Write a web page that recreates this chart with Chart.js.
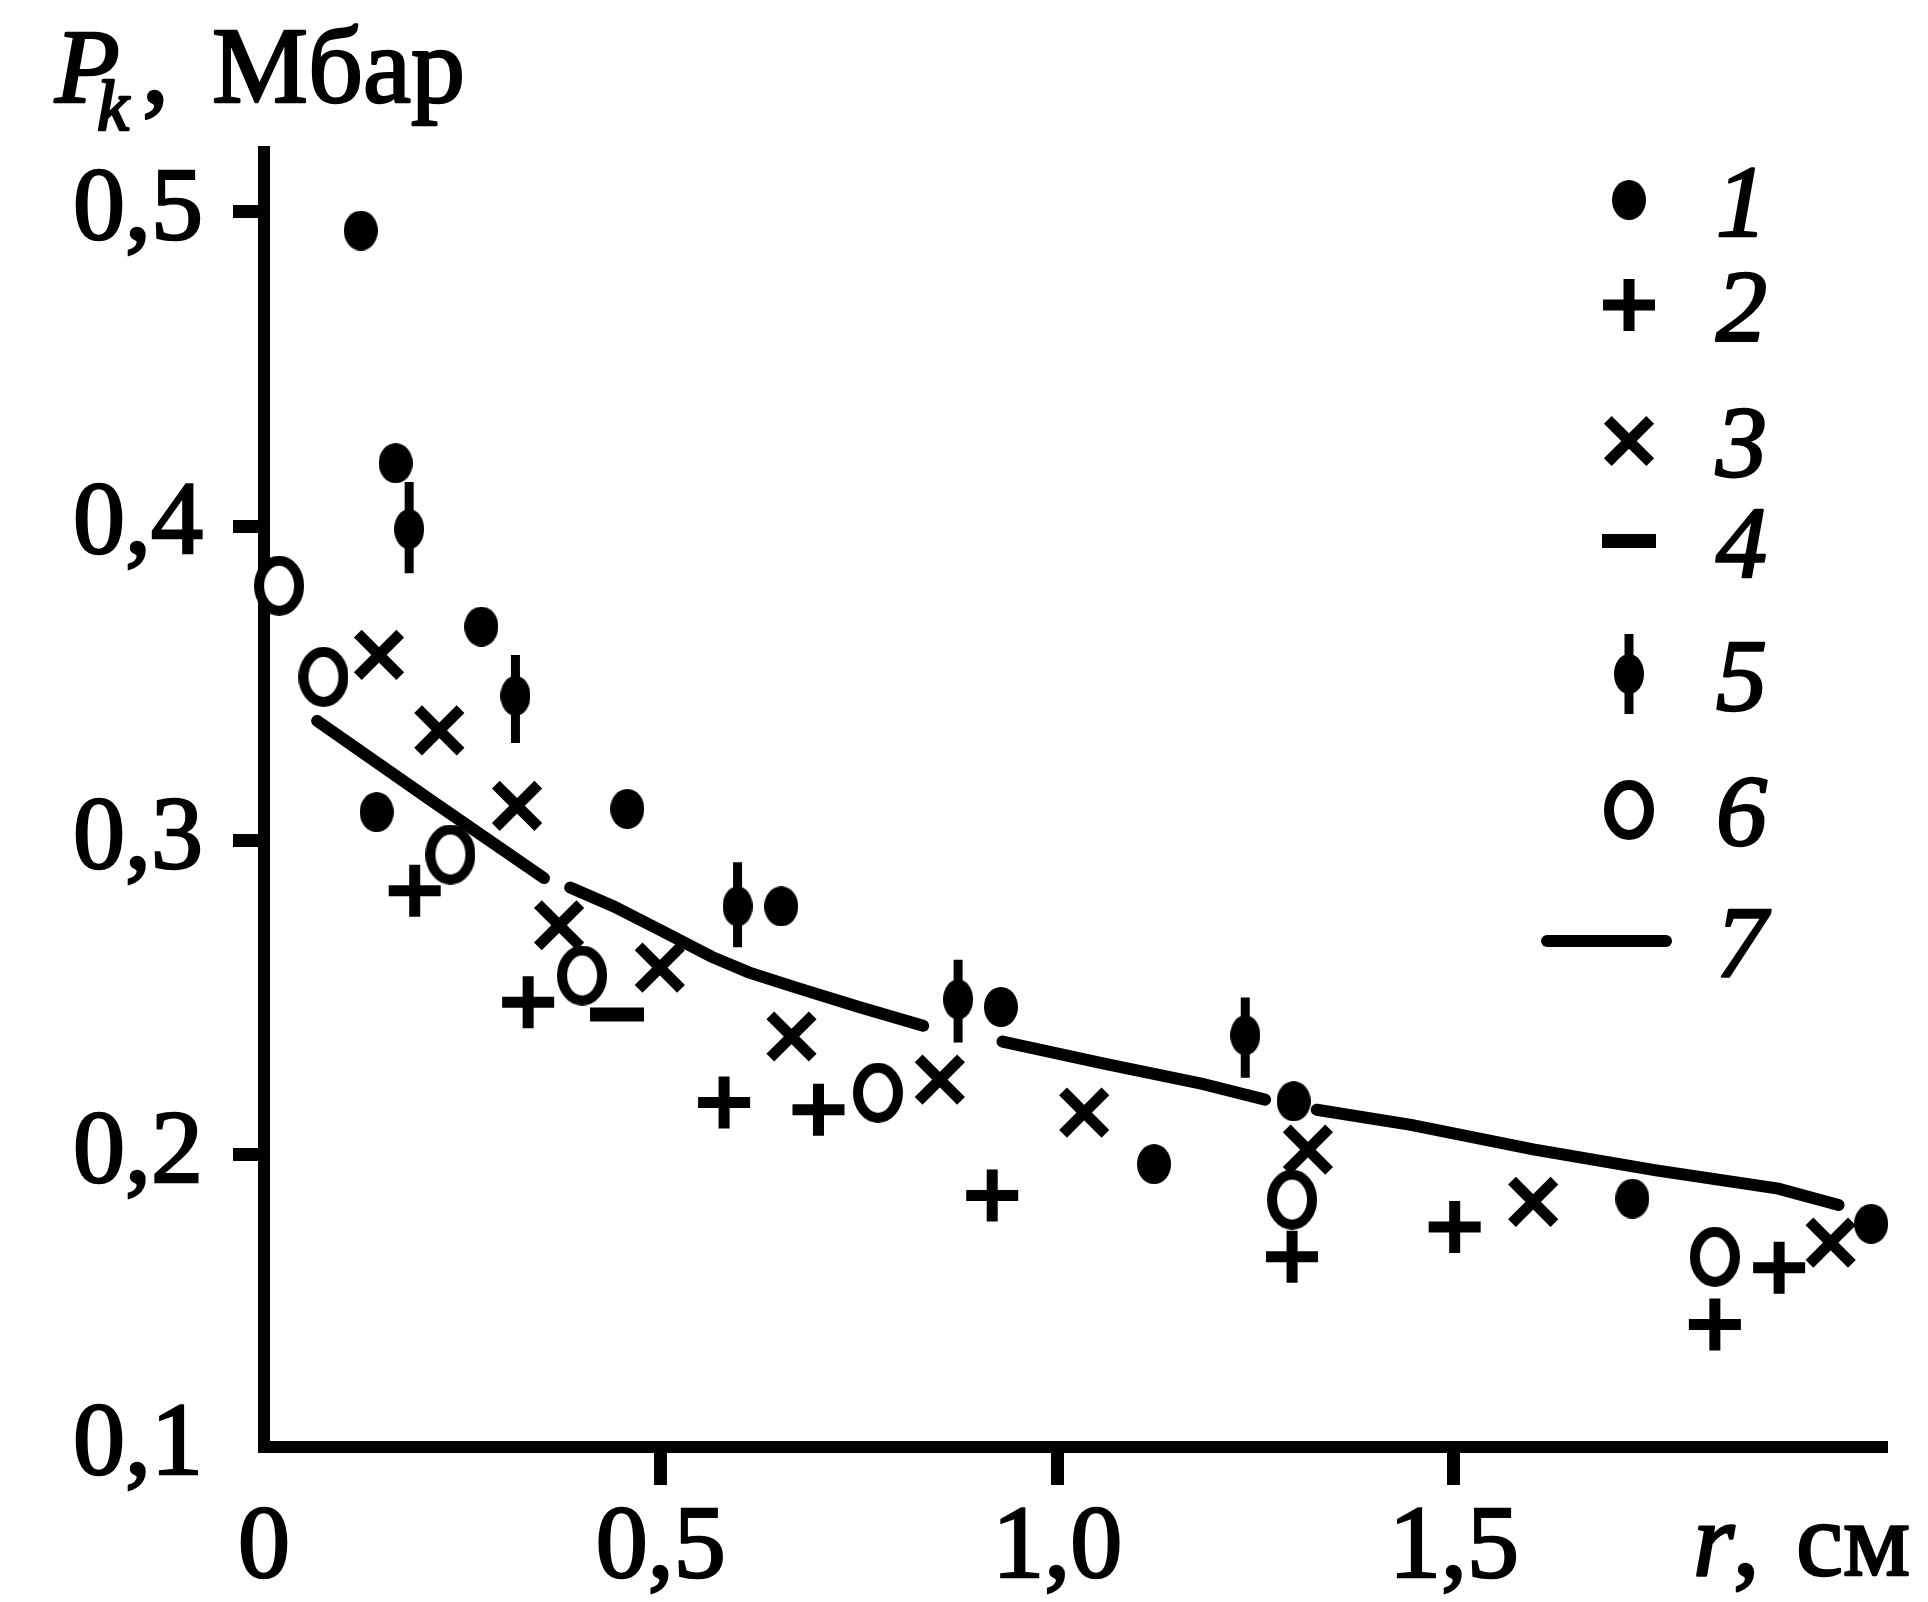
<!DOCTYPE html>
<html lang="ru">
<head>
<meta charset="UTF-8">
<title>Pk(r)</title>
<script src="https://cdn.jsdelivr.net/npm/chart.js"></script>
<style>
    html, body { margin: 0; padding: 0; background: #fff; }
</style>
</head>
<body>
<canvas id="chart" width="1928" height="1602"></canvas>
<script>
    // 1 - filled dots
    const s1X = [0.122, 0.166, 0.274, 0.142, 0.458, 0.652, 0.929, 1.122, 1.298, 1.725, 2.026];
    const s1Y = [0.494, 0.420, 0.368, 0.309, 0.310, 0.279, 0.247, 0.197, 0.217, 0.186, 0.178];
    // 2 - plus
    const s2X = [0.190, 0.333, 0.580, 0.699, 0.918, 1.296, 1.501, 1.829, 1.910];
    const s2Y = [0.284, 0.2485, 0.2166, 0.2143, 0.187, 0.1675, 0.177, 0.146, 0.164];
    // 3 - cross
    const s3X = [0.145, 0.221, 0.319, 0.372, 0.499, 0.665, 0.852, 1.034, 1.316, 1.600, 1.975];
    const s3Y = [0.359, 0.335, 0.311, 0.273, 0.2595, 0.2376, 0.2239, 0.2134, 0.2016, 0.185, 0.172];
    // 4 - dash
    const s4X = [0.445];
    const s4Y = [0.2446];
    // 5 - dots with error bars
    const s5X = [0.183, 0.317, 0.597, 0.875, 1.237];
    const s5Y = [0.399, 0.346, 0.279, 0.2494, 0.238];
    const s5Lo = [0.385, 0.331, 0.266, 0.2357, 0.2245];
    const s5Hi = [0.414, 0.359, 0.293, 0.262, 0.250];
    // 6 - open circles
    const s6X = [0.019, 0.075, 0.235, 0.401, 0.774, 1.296, 1.829];
    const s6Y = [0.381, 0.352, 0.2955, 0.257, 0.2197, 0.1857, 0.1675];
    // 7 - curve (null = break in the line)
    const curveX = [0.067, 0.209, 0.353, 0.37, 0.386, 0.441, 0.503, 0.564, 0.611, 0.673, 0.750, 0.831, 0.88,
                    0.931, 1.059, 1.183, 1.262, 1.29, 1.327, 1.446, 1.600, 1.755, 1.909, 1.985];
    const curveY = [0.338, 0.313, 0.288, null, 0.285, 0.279, 0.271, 0.263, 0.258, 0.253, 0.247, 0.241, null,
                    0.236, 0.229, 0.2225, 0.2175, null, 0.2143, 0.2095, 0.2017, 0.195, 0.1892, 0.184];

    const legendLabels = ['1', '2', '3', '4', '5', '6', '7'];
    const xTickValues = [0, 0.5, 1.0, 1.5];
    const xTickLabels = ['0', '0,5', '1,0', '1,5'];
    const yTickValues = [0.107, 0.2, 0.3, 0.4, 0.5];
    const yTickLabels = ['0,1', '0,2', '0,3', '0,4', '0,5'];

    const ink = '#000';
    const serif = '"Liberation Serif", "Times New Roman", serif';
    Chart.defaults.font.family = serif;

    const pts = (xs, ys) => xs.map((x, i) => ({x: x, y: ys[i]}));

    // error bars as short vertical segments separated by gaps
    const errData = [];
    s5X.forEach((x, i) => {
        errData.push({x: x, y: s5Hi[i]}, {x: x, y: s5Lo[i]}, {x: x, y: null});
    });

    // the printed dots and rings are slightly tall ellipses
    function ellipseMark(w, h, ring) {
        const c = document.createElement('canvas');
        c.width = w;
        c.height = h;
        const g = c.getContext('2d');
        g.beginPath();
        if (ring) {
            g.ellipse(w / 2, h / 2, w / 2 - ring / 2, h / 2 - ring / 2, 0, 0, Math.PI * 2);
            g.fillStyle = '#fff';
            g.fill();
            g.lineWidth = ring;
            g.strokeStyle = ink;
            g.stroke();
        } else {
            g.ellipse(w / 2, h / 2, w / 2, h / 2, 0, 0, Math.PI * 2);
            g.fillStyle = ink;
            g.fill();
        }
        return c;
    }

    // marker look, shared by datasets and the legend
    const marks = {
        s1: {pointStyle: ellipseMark(34, 40, 0), radius: 17, borderWidth: 0, fill: ink},
        s2: {pointStyle: 'cross', radius: 26, borderWidth: 11, fill: ink},
        s3: {pointStyle: 'crossRot', radius: 30, borderWidth: 11, fill: ink},
        s4: {pointStyle: 'line', radius: 27, borderWidth: 14, fill: ink},
        s5: {pointStyle: ellipseMark(30, 40, 0), radius: 15, borderWidth: 0, fill: ink},
        s6: {pointStyle: ellipseMark(50, 60, 10), radius: 25, borderWidth: 0, fill: '#fff'}
    };

    function markerSet(label, data, m) {
        return {
            label: label,
            data: data,
            showLine: false,
            pointStyle: m.pointStyle,
            pointRadius: m.radius,
            pointBorderWidth: m.borderWidth,
            pointBackgroundColor: m.fill,
            pointBorderColor: ink,
            clip: false
        };
    }

    function drawMarker(ctx, m, x, y) {
        ctx.save();
        ctx.fillStyle = m.fill;
        ctx.strokeStyle = ink;
        ctx.lineWidth = m.borderWidth;
        if (typeof m.pointStyle === 'object') {
            ctx.drawImage(m.pointStyle, x - m.pointStyle.width / 2, y - m.pointStyle.height / 2);
        } else if (Chart.helpers && Chart.helpers.drawPoint) {
            Chart.helpers.drawPoint(ctx, {pointStyle: m.pointStyle, rotation: 0, radius: m.radius, borderWidth: m.borderWidth}, x, y);
        }
        ctx.restore();
    }

    function heavyText(ctx, t, x, y) {
        ctx.fillText(t, x, y);
        ctx.strokeText(t, x, y);
    }

    // axis captions and the legend drawn onto the canvas
    const textPlugin = {
        id: 'captions',
        afterDraw(chart) {
            const ctx = chart.ctx;
            ctx.save();
            ctx.fillStyle = ink;
            ctx.strokeStyle = ink;
            ctx.lineWidth = 2.5;
            ctx.lineJoin = 'round';
            ctx.textBaseline = 'alphabetic';
            ctx.textAlign = 'left';

            // y caption
            ctx.font = 'italic 106px ' + serif;
            heavyText(ctx, 'P', 55, 102);
            ctx.font = 'italic 72px ' + serif;
            heavyText(ctx, 'k', 97, 130);
            ctx.font = '108px ' + serif;
            heavyText(ctx, ',', 142, 102);
            heavyText(ctx, 'Мбар', 212, 102);

            // x caption
            ctx.font = 'italic 106px ' + serif;
            heavyText(ctx, 'r', 1693, 1575);
            ctx.font = '106px ' + serif;
            heavyText(ctx, ',', 1733, 1575);
            heavyText(ctx, 'см', 1796, 1575);

            // legend
            const rows = [200, 305, 441, 541, 674, 810, 941];
            const mx = 1629;
            ctx.save();
            drawMarker(ctx, marks.s1, mx, rows[0]);
            drawMarker(ctx, marks.s2, mx, rows[1]);
            drawMarker(ctx, marks.s3, mx, rows[2]);
            drawMarker(ctx, marks.s4, mx, rows[3]);
            ctx.lineWidth = 9;
            ctx.beginPath();
            ctx.moveTo(mx, rows[4] - 40);
            ctx.lineTo(mx, rows[4] + 40);
            ctx.stroke();
            drawMarker(ctx, marks.s5, mx, rows[4]);
            drawMarker(ctx, marks.s6, mx, rows[5]);
            ctx.lineWidth = 12;
            ctx.lineCap = 'round';
            ctx.beginPath();
            ctx.moveTo(1547, rows[6]);
            ctx.lineTo(1666, rows[6]);
            ctx.stroke();
            ctx.restore();

            ctx.font = 'italic 102px ' + serif;
            legendLabels.forEach((t, i) => heavyText(ctx, t, 1716, rows[i] + 36));
            ctx.restore();
        }
    };

    const hideFirst = (c) => c.index === 0 ? 'rgba(0,0,0,0)' : ink;

    new Chart(document.getElementById('chart'), {
        type: 'scatter',
        data: {
            datasets: [
                markerSet('1', pts(s1X, s1Y), marks.s1),
                markerSet('2', pts(s2X, s2Y), marks.s2),
                markerSet('3', pts(s3X, s3Y), marks.s3),
                markerSet('4', pts(s4X, s4Y), marks.s4),
                markerSet('5', pts(s5X, s5Y), marks.s5),
                {
                    label: '5 err',
                    data: errData,
                    showLine: true,
                    spanGaps: false,
                    borderColor: ink,
                    borderWidth: 9,
                    pointRadius: 0,
                    clip: false
                },
                markerSet('6', pts(s6X, s6Y), marks.s6),
                {
                    label: '7',
                    data: pts(curveX, curveY),
                    showLine: true,
                    spanGaps: false,
                    borderColor: ink,
                    borderWidth: 12,
                    borderCapStyle: 'round',
                    pointRadius: 0,
                    tension: 0,
                    clip: false
                }
            ]
        },
        options: {
            responsive: false,
            animation: false,
            events: [],
            layout: { padding: { top: 152, right: 36, left: 0, bottom: 0 } },
            plugins: {
                legend: { display: false },
                tooltip: { enabled: false }
            },
            scales: {
                x: {
                    type: 'linear',
                    min: 0,
                    max: 2.046,
                    border: { display: true, color: ink, width: 12 },
                    grid: { drawOnChartArea: false, drawTicks: true, tickLength: 38, tickWidth: 13, tickColor: hideFirst },
                    afterBuildTicks: (scale) => { scale.ticks = xTickValues.map(v => ({value: v})); },
                    afterFit: (scale) => { scale.height = 155; },
                    ticks: {
                        color: ink,
                        padding: 2,
                        maxRotation: 0,
                        autoSkip: false,
                        textStrokeColor: ink,
                        textStrokeWidth: 2.5,
                        font: { family: serif, size: 104 },
                        callback: (v, i) => xTickLabels[i]
                    }
                },
                y: {
                    type: 'linear',
                    min: 0.107,
                    max: 0.519,
                    border: { display: true, color: ink, width: 12 },
                    grid: { drawOnChartArea: false, drawTicks: true, tickLength: 31, tickWidth: 13, tickColor: hideFirst },
                    afterBuildTicks: (scale) => { scale.ticks = yTickValues.map(v => ({value: v})); },
                    afterFit: (scale) => { scale.width = 264; },
                    ticks: {
                        color: ink,
                        padding: 30,
                        autoSkip: false,
                        textStrokeColor: ink,
                        textStrokeWidth: 2.5,
                        font: { family: serif, size: 104 },
                        callback: (v, i) => yTickLabels[i]
                    }
                }
            }
        },
        plugins: [textPlugin]
    });
</script>
</body>
</html>
